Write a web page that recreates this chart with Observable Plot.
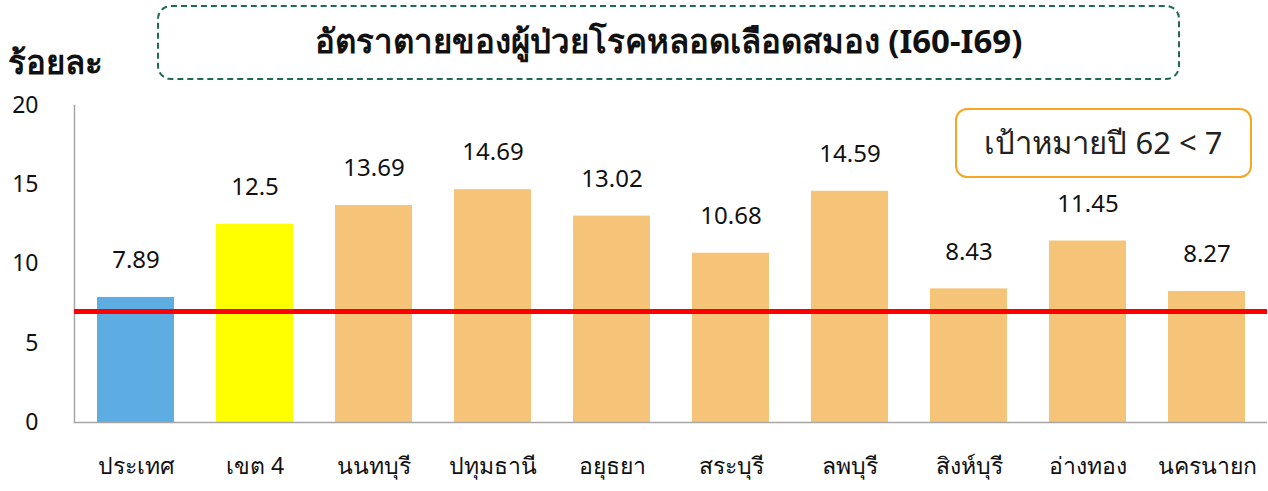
<!DOCTYPE html>
<html>
<head>
<meta charset="utf-8">
<script src="https://cdn.jsdelivr.net/npm/d3@7"></script>
<script src="https://cdn.jsdelivr.net/npm/@observablehq/plot@0.6"></script>
<style>
  html, body { margin: 0; padding: 0; background: #fff; }
  #wrap { position: relative; width: 1268px; height: 491px; overflow: hidden; font-family: "Noto Sans", "DejaVu Sans", sans-serif; }
  #chart { position: absolute; left: 0; top: 0; }
  .title-box { position: absolute; left: 157px; top: 5px; width: 1023px; height: 75px; border: 2.5px dashed #1e6b4f; border-radius: 14px; box-sizing: border-box; display: flex; align-items: center; justify-content: center; font-size: 33px; font-weight: bold; color: #111; padding-bottom: 2px; }
  .ylabel { position: absolute; left: 8px; top: 36px; font-size: 33px; font-weight: bold; color: #111; }
  .target { position: absolute; left: 955px; top: 108px; width: 297px; height: 70px; border: 2.5px solid #f5a623; border-radius: 12px; box-sizing: border-box; display: flex; align-items: center; justify-content: center; font-size: 31px; color: #222; }
</style>
</head>
<body>
<div id="wrap">
  <div id="chart"></div>
  <div class="title-box" id="title"></div>
  <div class="ylabel" id="ylabel"></div>
  <div class="target" id="target"></div>
</div>
<script>
const categories = ["ประเทศ", "เขต 4", "นนทบุรี", "ปทุมธานี", "อยุธยา", "สระบุรี", "ลพบุรี", "สิงห์บุรี", "อ่างทอง", "นครนายก"];
const values = [7.89, 12.5, 13.69, 14.69, 13.02, 10.68, 14.59, 8.43, 11.45, 8.27];
const valueLabels = ["7.89", "12.5", "13.69", "14.69", "13.02", "10.68", "14.59", "8.43", "11.45", "8.27"];
const barColors = ["#5dade2", "#ffff00", "#f6c479", "#f6c479", "#f6c479", "#f6c479", "#f6c479", "#f6c479", "#f6c479", "#f6c479"];
const yTicks = [0, 5, 10, 15, 20];
const target = 7;
const titleText = "อัตราตายของผู้ป่วยโรคหลอดเลือดสมอง (I60-I69)";
const yLabelText = "ร้อยละ";
const targetText = "เป้าหมายปี 62 < 7";

document.getElementById("title").textContent = titleText;
document.getElementById("ylabel").textContent = yLabelText;
document.getElementById("target").textContent = targetText;

const data = categories.map((c, i) => ({cat: c, value: values[i], label: valueLabels[i], color: barColors[i]}));

const chart = Plot.plot({
  width: 1268,
  height: 491,
  marginLeft: 74,
  marginRight: 1,
  marginTop: 105,
  marginBottom: 69,
  style: {fontFamily: "'Noto Sans', 'DejaVu Sans', sans-serif", fontSize: "23px", color: "#111", background: "transparent"},
  x: {domain: categories, paddingInner: 0.355, paddingOuter: 0.1775, label: null},
  y: {domain: [0, 20], label: null},
  marks: [
    Plot.barY(data, {x: "cat", y: "value", fill: "color"}),
    Plot.ruleY([0], {stroke: "#a6a6a6", strokeWidth: 1.5}),
    Plot.frame({anchor: "left", stroke: "#a6a6a6", strokeWidth: 1.5}),
    Plot.ruleY([target], {stroke: "#ff0000", strokeWidth: 5}),
    Plot.text(data, {x: "cat", y: "value", text: "label", dy: -37, fontSize: 24, fill: "#111"}),
    Plot.axisY({ticks: yTicks, tickSize: 0, tickPadding: 36, fontSize: 23, label: null}),
    Plot.axisX({tickSize: 0, tickPadding: 35, fontSize: 23, label: null})
  ]
});
document.getElementById("chart").appendChild(chart);
</script>
</body>
</html>
